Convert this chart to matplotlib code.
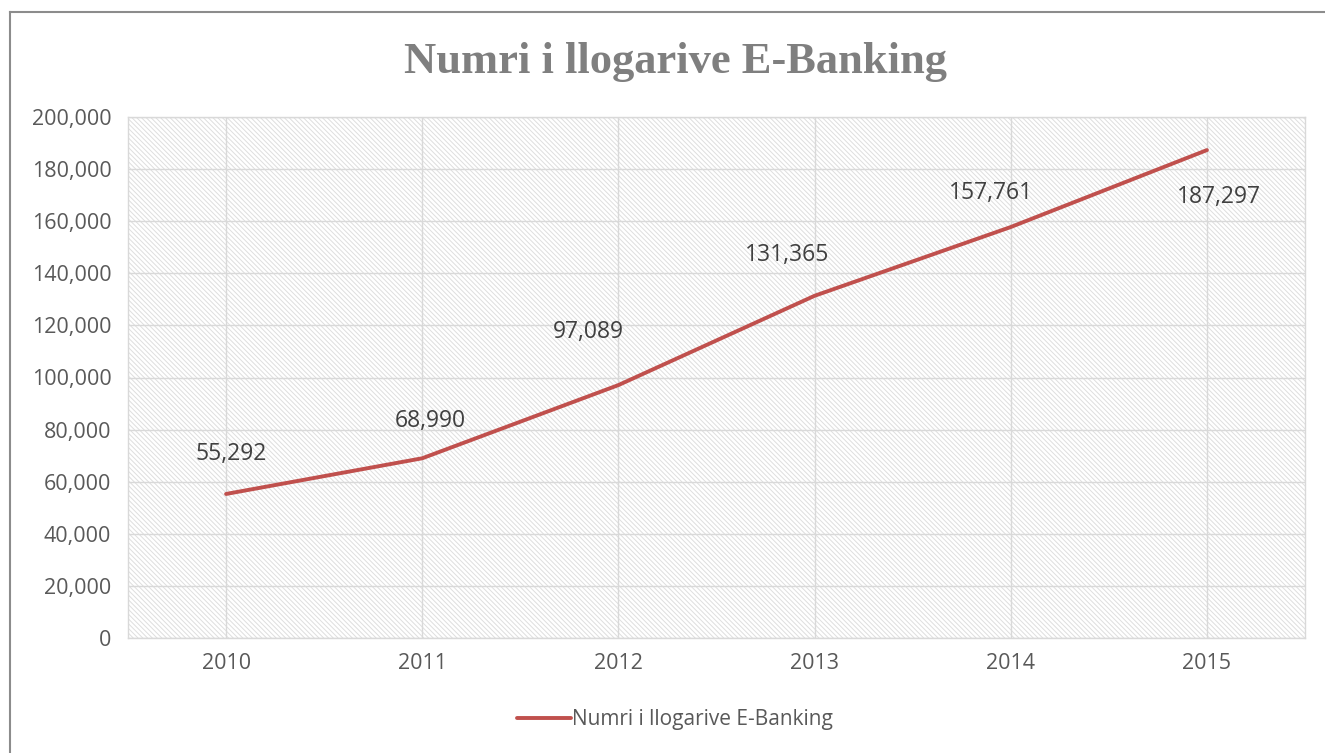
import matplotlib.pyplot as plt
from matplotlib.lines import Line2D
from matplotlib.ticker import FuncFormatter

years = ['2010', '2011', '2012', '2013', '2014', '2015']
accounts = [55292, 68990, 97089, 131365, 157761, 187297]
series_name = 'Numri i llogarive E-Banking'

# label offsets in pixels (dx, dy) relative to each point
label_offsets = [(5, 40), (8, 37), (-30, 53), (-27, 41), (-20, 34), (12, -47)]

plt.rcParams['hatch.color'] = '#dedede'
plt.rcParams['hatch.linewidth'] = 0.7

fig = plt.figure(figsize=(13.25, 7.53), dpi=100)
ax = fig.add_axes([128 / 1325, 1 - 638 / 753, (1305 - 128) / 1325, (638 - 117) / 753])

ax.patch.set_facecolor('white')
ax.patch.set_hatch('\\\\\\\\\\\\\\')
ax.patch.set_edgecolor('#dedede')

x = range(len(years))
ax.plot(x, accounts, color='#C0504D', linewidth=2.8, label=series_name,
        solid_capstyle='round', zorder=3)

for i, v in enumerate(accounts):
    dx, dy = label_offsets[i]
    ax.annotate(f'{v:,}', (i, v), xytext=(dx * 0.72, dy * 0.72), textcoords='offset points',
                ha='center', va='center', fontsize=16.5, color='#404040', fontfamily='Open Sans')

ax.set_xlim(-0.5, 5.5)
ax.set_ylim(0, 200000)
ax.set_yticks(range(0, 200001, 20000))
ax.yaxis.set_major_formatter(FuncFormatter(lambda v, p: f'{int(v):,}'))
ax.set_xticks(list(x))
ax.set_xticklabels(years)
ax.grid(True, color='#d9d9d9', linewidth=1.0, zorder=1)
ax.set_axisbelow(True)
ax.tick_params(length=0, labelsize=15.5, labelcolor='#595959')
ax.tick_params(axis='y', pad=12)
ax.tick_params(axis='x', pad=11)
for lbl in ax.get_xticklabels() + ax.get_yticklabels():
    lbl.set_fontfamily('Open Sans')
for s in ax.spines.values():
    s.set_color('#d9d9d9')
    s.set_linewidth(1.0)

fig.text(675 / 1325, 1 - 62 / 753, series_name, ha='center', va='center',
         fontsize=32, fontweight='bold', color='#7f7f7f', fontfamily='Liberation Serif')

leg = ax.legend(loc='center', bbox_to_anchor=(675 / 1325, 1 - 720 / 753),
                bbox_transform=fig.transFigure, frameon=False, handlelength=2.6,
                handletextpad=0.05, prop={'family': 'Open Sans', 'size': 15})
for t in leg.get_texts():
    t.set_color('#595959')

# chart border
fig.add_artist(Line2D([10 / 1325, 10 / 1325], [0, 1 - 12 / 753], color='#8c8c8c', linewidth=1.5))
fig.add_artist(Line2D([10 / 1325, 1], [1 - 12 / 753, 1 - 12 / 753], color='#8c8c8c', linewidth=1.5))

fig.savefig('out.png', dpi=100)
